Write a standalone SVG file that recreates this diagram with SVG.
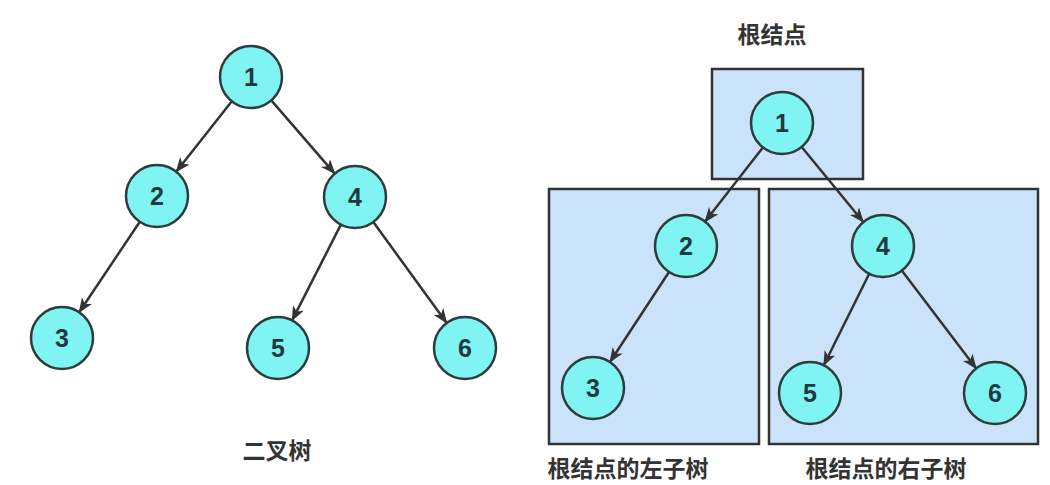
<svg xmlns="http://www.w3.org/2000/svg" width="1050" height="485" viewBox="0 0 1050 485">
<defs>
<marker id="arr" markerWidth="16" markerHeight="12" refX="14" refY="6" orient="auto" markerUnits="userSpaceOnUse">
<path d="M0,0 L15,6 L0,12 L4,6 z" fill="#333"/>
</marker>
<style>
.n circle{fill:#7ff4f2;stroke:#2d3c3e;stroke-width:2.5}
.n text{font-family:"Liberation Sans",Arial,sans-serif;font-weight:bold;font-size:25px;fill:#1f3a40;text-anchor:middle;dominant-baseline:central}
.box{fill:#cbe3fa;stroke:#333;stroke-width:2.5}
.c line{stroke:#333;stroke-width:2.5;marker-end:url(#arr)}
.lbl{font-family:"Noto Sans CJK SC","Noto Sans",sans-serif;font-weight:bold;font-size:23px;fill:#333;text-anchor:middle}
</style>
</defs>
<rect width="1050" height="485" fill="#fff"/>
<g id="boxes">
<rect class="box" x="712" y="69" width="151" height="110"/>
<rect class="box" x="549" y="189" width="210" height="255"/>
<rect class="box" x="769" y="189" width="269" height="255"/>
</g>
<g class="c" id="connectors">
<line x1="231.8" y1="101.3" x2="176.2" y2="171.7"/>
<line x1="271.3" y1="100.4" x2="334.7" y2="173.6"/>
<line x1="139.8" y1="221.8" x2="79.2" y2="312.2"/>
<line x1="340.9" y1="224.6" x2="292.1" y2="320.4"/>
<line x1="373.3" y1="222.1" x2="446.7" y2="322.9"/>
<line x1="762.9" y1="147.4" x2="705.1" y2="221.6"/>
<line x1="801.7" y1="147" x2="863.3" y2="222"/>
<line x1="669" y1="272" x2="610" y2="362"/>
<line x1="869.2" y1="273.8" x2="823.8" y2="365.2"/>
<line x1="901.8" y1="270.6" x2="976.2" y2="368.4"/>
</g>
<g class="n" id="L1"><circle cx="251" cy="77" r="31"/><text x="251" y="77">1</text></g>
<g class="n" id="L2"><circle cx="157" cy="196" r="31"/><text x="157" y="196">2</text></g>
<g class="n" id="L4"><circle cx="355" cy="197" r="31"/><text x="355" y="197">4</text></g>
<g class="n" id="L3"><circle cx="62" cy="338" r="31"/><text x="62" y="338">3</text></g>
<g class="n" id="L5"><circle cx="278" cy="348" r="31"/><text x="278" y="348">5</text></g>
<g class="n" id="L6"><circle cx="465" cy="348" r="31"/><text x="465" y="348">6</text></g>
<g class="n" id="R1"><circle cx="782" cy="123" r="31"/><text x="782" y="123">1</text></g>
<g class="n" id="R2"><circle cx="686" cy="246" r="31"/><text x="686" y="246">2</text></g>
<g class="n" id="R4"><circle cx="883" cy="246" r="31"/><text x="883" y="246">4</text></g>
<g class="n" id="R3"><circle cx="593" cy="388" r="31"/><text x="593" y="388">3</text></g>
<g class="n" id="R5"><circle cx="810" cy="393" r="31"/><text x="810" y="393">5</text></g>
<g class="n" id="R6"><circle cx="995" cy="393" r="31"/><text x="995" y="393">6</text></g>
<g id="labels">
<text class="lbl" x="277" y="459">二叉树</text>
<text class="lbl" x="772" y="43">根结点</text>
<text class="lbl" x="628" y="477">根结点的左子树</text>
<text class="lbl" x="886" y="477">根结点的右子树</text>
</g>
</svg>
